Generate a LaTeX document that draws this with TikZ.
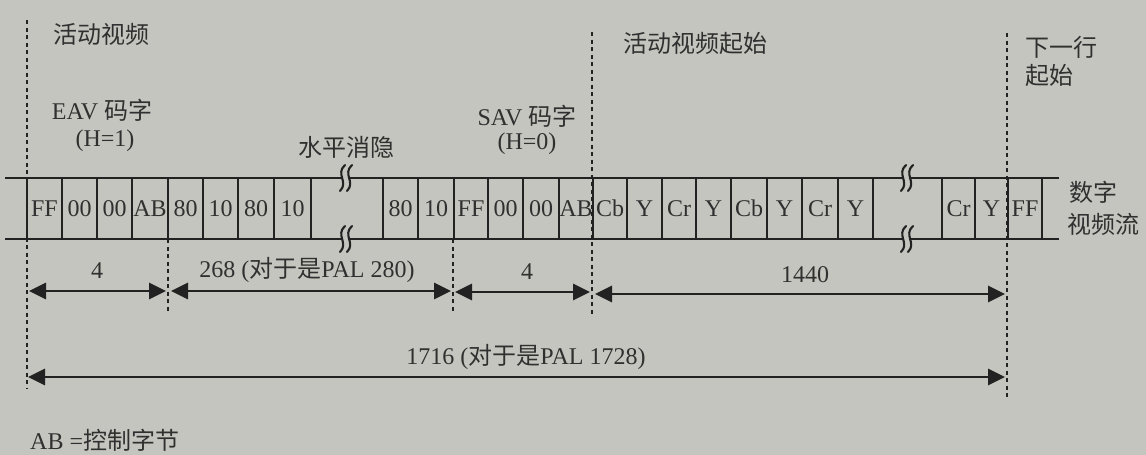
\documentclass[tikz,border=0pt]{standalone}
\usepackage{fontspec}
\setmainfont{Liberation Serif}
\newfontfamily\zh{Noto Sans CJK SC}
\usetikzlibrary{arrows.meta}
\definecolor{bgc}{RGB}{197,197,191}
\definecolor{ink}{RGB}{34,34,34}
\definecolor{txt}{RGB}{48,48,48}
\tikzset{
  every node/.style={font=\fontsize{24pt}{28pt}\selectfont, text=txt},
  cell/.style={draw=ink, line width=2.3pt, minimum height=61pt, inner sep=0pt},
  bandline/.style={draw=ink, line width=2.3pt},
  guide/.style={draw=ink, line width=1.8pt, dash pattern=on 4pt off 3.5pt},
  dim/.style={draw=ink, line width=2.8pt, {Triangle[length=17pt,width=16pt]}-{Triangle[length=17pt,width=16pt]}},
  brkstroke/.style={draw=ink, line width=2.1pt, line cap=round},
  lbl/.style={inner sep=0pt}
}
\begin{document}
\begin{tikzpicture}[x=1pt,y=-1pt]
\fill[bgc] (0,0) rectangle (1146,455);
\useasboundingbox (0,0) rectangle (1146,455);

% band lines
\coordinate (tl) at (5,178);   \coordinate (tr) at (1059,178);
\coordinate (bl) at (5,239);   \coordinate (br) at (1059,239);
\draw[bandline] (tl) -- (tr);
\draw[bandline] (bl) -- (br);

% cells
\foreach \l/\r/\t [count=\i] in {27/62/FF, 62/97/00, 97/132/00, 132/168/AB, 168/203/80, 203/238/10, 238/274/80, 274/311/10, 383/418/80, 418/454/10, 454/488/FF, 488/523/00, 523/559/00, 559/593/AB, 593/627/Cb, 627/662/Y, 662/696/Cr, 696/731/Y, 731/767/Cb, 767/802/Y, 802/838/Cr, 838/873/Y, 942/975/Cr, 975/1008/Y, 1008/1042/FF}
  \node[cell, minimum width={(\r-\l)*1pt}] (c\i) at ({(\l+\r)/2},208.5) {\t};

% break marks
\foreach \bx in {346,907} {
  \foreach \by in {178,239} {
    \fill[bgc] (\bx-4,\by-4) rectangle (\bx+4,\by+4);
    \draw[brkstroke] (\bx-1,\by-13) .. controls (\bx-11,\by-4) and (\bx+3,\by+4) .. (\bx-6,\by+13);
    \draw[brkstroke] (\bx+6,\by-13) .. controls (\bx-4,\by-4) and (\bx+10,\by+4) .. (\bx+1,\by+13);
  }
}

% dashed guides
\coordinate (g0t) at (27,20);   \coordinate (g0b) at (27,388);
\coordinate (g1t) at (168,239); \coordinate (g1b) at (168,313);
\coordinate (g2t) at (453,239); \coordinate (g2b) at (453,313);
\coordinate (g3t) at (592,32);  \coordinate (g3b) at (592,315);
\coordinate (g4t) at (1007,33); \coordinate (g4b) at (1007,400);
\foreach \g in {0,...,4} \draw[guide] (g\g t) -- (g\g b);

% dimension arrows
\coordinate (a1l) at (29,291);  \coordinate (a1r) at (166,291);
\coordinate (a2l) at (171,291); \coordinate (a2r) at (451,291);
\coordinate (a3l) at (455,292); \coordinate (a3r) at (590,292);
\coordinate (a4l) at (595,294); \coordinate (a4r) at (1005,294);
\coordinate (a5l) at (28,377);  \coordinate (a5r) at (1005,377);
\foreach \a in {1,...,5} \draw[dim] (a\a l) -- (a\a r);

% labels
\node[lbl, anchor=west] (t1) at (53,34) {\zh 活动视频};
\node[lbl] (t2) at (102,110) {EAV {\zh 码字}};
\node[lbl] (t3) at (105,141) {(H=1)};
\node[lbl] (t4) at (346,147) {\zh 水平消隐};
\node[lbl] (t5) at (527,116) {SAV {\zh 码字}};
\node[lbl] (t6) at (527,144) {(H=0)};
\node[lbl, anchor=west] (t7) at (623,43) {\zh 活动视频起始};
\node[lbl, anchor=west] (t8) at (1025,47) {\zh 下一行};
\node[lbl, anchor=west] (t9) at (1025,75) {\zh 起始};
\node[lbl, anchor=west] (t10) at (1069,192) {\zh 数字};
\node[lbl, anchor=west] (t11) at (1067,224) {\zh 视频流};
\node[lbl] (n1) at (97,271) {4};
\node[lbl] (n2) at (307,270) {268 ({\zh 对于是}PAL 280)};
\node[lbl] (n3) at (527,272) {4};
\node[lbl] (n4) at (805,275) {1440};
\node[lbl] (n5) at (526,357) {1716 ({\zh 对于是}PAL 1728)};
\node[lbl, anchor=west] (n6) at (30,440) {AB ={\zh 控制字节}};
\end{tikzpicture}
\end{document}
